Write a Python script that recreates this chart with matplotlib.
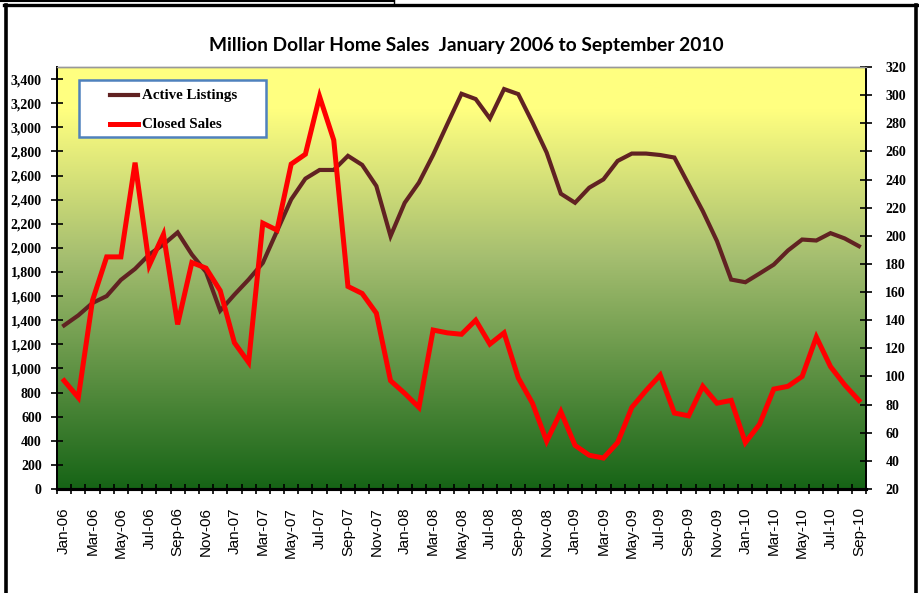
import numpy as np
import matplotlib
matplotlib.use("Agg")
import matplotlib.pyplot as plt
from matplotlib.colors import LinearSegmentedColormap
from matplotlib.lines import Line2D
from matplotlib.patches import Rectangle

# monthly data, Jan-06 .. Sep-10
months = ["Jan", "Feb", "Mar", "Apr", "May", "Jun",
          "Jul", "Aug", "Sep", "Oct", "Nov", "Dec"]
labels = [f"{m}-{y:02d}" for y in range(6, 11) for m in months][:57]

active_listings = [1357, 1440, 1543, 1600, 1734, 1826, 1945, 2028, 2128, 1945,
                   1800, 1479, 1612, 1737, 1875, 2139, 2402, 2574, 2646, 2646,
                   2763, 2688, 2513, 2097, 2374, 2541, 2771, 3026, 3278, 3234,
                   3073, 3317, 3275, 3040, 2790, 2449, 2374, 2499, 2568, 2721,
                   2782, 2782, 2770, 2749, 2527, 2305, 2056, 1737, 1715, 1787,
                   1861, 1978, 2069, 2061, 2122, 2078, 2014]

closed_sales = [97, 85, 154, 185, 185, 252, 179, 201, 137, 181,
                177, 161, 124, 110, 209, 204, 251, 258, 299, 268,
                164, 159, 145, 97, 88, 78, 133, 131, 130, 140,
                123, 131, 99, 81, 54, 75, 51, 44, 42, 53,
                78, 90, 101, 74, 72, 93, 81, 83, 53, 66,
                91, 93, 100, 128, 107, 94, 83]

x = np.arange(len(labels))

W, H = 919, 593
fig = plt.figure(figsize=(W / 100, H / 100), dpi=100)
fig.patch.set_facecolor("white")

ax = fig.add_axes([57 / W, 1 - 489 / H, 809 / W, 422 / H])
ax2 = ax.twinx()

# background gradient, yellow on top to dark green at the bottom
cmap = LinearSegmentedColormap.from_list("bg", [
    (0.0, (22 / 255, 100 / 255, 22 / 255)),
    (0.55, (165 / 255, 190 / 255, 112 / 255)),
    (0.90, (255 / 255, 255 / 255, 128 / 255)),
    (1.0, (255 / 255, 255 / 255, 128 / 255))])
grad = np.linspace(0, 1, 256).reshape(-1, 1)
ax.imshow(grad, cmap=cmap, origin="lower", extent=[0, 1, 0, 1],
          transform=ax.transAxes, aspect="auto", zorder=0)

ax.plot(x, active_listings, color="#612222", lw=3.0, zorder=3,
        solid_joinstyle="miter")
ax2.plot(x, closed_sales, color="#ff0000", lw=3.6, zorder=3,
         solid_joinstyle="miter")

ax.set_xlim(-0.5, len(x) - 0.5)
ax.set_ylim(0, 3500)
ax2.set_ylim(20, 320)
ax.set_yticks(np.arange(0, 3401, 200))
ax2.set_yticks(np.arange(20, 321, 20))
ax.set_yticklabels([f"{v:,}" for v in range(0, 3401, 200)])

ax.set_xticks(x[::2])
ax.set_xticklabels(labels[::2], rotation=90, fontsize=11,
                   family="Liberation Sans")
ax.set_xticks(np.arange(-0.5, len(x), 1), minor=True)
ax.tick_params(axis="x", which="major", length=0, pad=13)
ax.tick_params(axis="x", which="minor", direction="inout", length=7,
               width=1.2)

for a in (ax, ax2):
    a.tick_params(axis="y", direction="inout", length=8, width=1.2)
    for t in a.get_yticklabels():
        t.set_family("Liberation Serif")
        t.set_fontweight("bold")
        t.set_fontsize(10)
ax.tick_params(axis="y", pad=7)
ax2.tick_params(axis="y", pad=10)

for a in (ax, ax2):
    a.spines["top"].set_color("#999999")
    a.spines["top"].set_linewidth(1)
    a.spines["left"].set_linewidth(1.3)
    a.spines["right"].set_linewidth(1.3)
    a.spines["bottom"].set_linewidth(2.2)

# legend box
ax2.add_patch(Rectangle((22 / 809, (489 - 137) / 422), 187 / 809, 57 / 422,
                        transform=ax2.transAxes, facecolor="white",
                        edgecolor="#4f81bd", lw=1.8, zorder=5))
for yy, col, lw, name in [(95, "#612222", 3.0, "Active Listings"),
                          (124, "#ff0000", 3.6, "Closed Sales")]:
    fy = (489 - yy) / 422
    ax2.add_line(Line2D([53 / 809, 81 / 809], [fy, fy], color=col, lw=lw,
                        transform=ax2.transAxes, zorder=6))
    ax2.text(85 / 809, fy, name, transform=ax2.transAxes, va="center",
             ha="left", family="Liberation Serif", fontweight="bold",
             fontsize=10.8, zorder=6)

fig.text(466.5 / W, 1 - 51 / H,
         "Million Dollar Home Sales  January 2006 to September 2010",
         ha="center", va="baseline", family="Lato", fontweight="bold",
         fontsize=13.8)

# outer chart frame
def fline(xs, ys, lw, col="black"):
    fig.add_artist(Line2D([v / W for v in xs], [1 - v / H for v in ys],
                          transform=fig.transFigure, color=col, lw=lw))

fline([5.5, 5.5], [5, 593], 2.6)
fline([4, 917], [5.3, 5.3], 2.4)
fline([915.5, 915.5], [5, 593], 2.6)
fline([0, 394], [0.8, 0.8], 1.5)
fline([394, 394], [0, 4], 1.0)

fig.savefig("out.png", dpi=100)
